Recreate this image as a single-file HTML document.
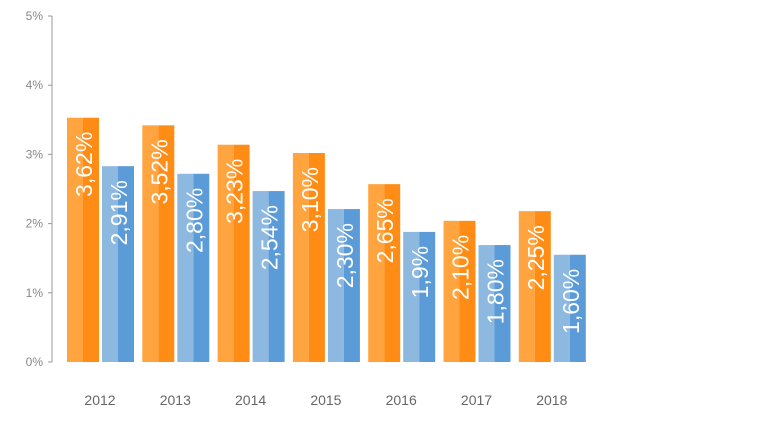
<!DOCTYPE html>
<html><head><meta charset="utf-8"><style>
body{margin:0;background:#fff;}
svg text{font-family:"Liberation Sans",sans-serif;}
</style></head><body>
<svg id="chart" width="768" height="432" viewBox="0 0 768 432" xmlns="http://www.w3.org/2000/svg"></svg>
<script>
const years = ["2012","2013","2014","2015","2016","2017","2018"];
const seriesA = [3.53,3.42,3.14,3.02,2.57,2.04,2.18];
const seriesB = [2.83,2.72,2.47,2.21,1.88,1.69,1.55];
const labelsA = ["3,62%","3,52%","3,23%","3,10%","2,65%","2,10%","2,25%"];
const labelsB = ["2,91%","2,80%","2,54%","2,30%","1,9%","1,80%","1,60%"];
const yTicks = [0,1,2,3,4,5];
const yTickLabels = ["0%","1%","2%","3%","4%","5%"];

const svg = document.getElementById('chart');
const NS = "http://www.w3.org/2000/svg";
const y0 = 362, pxPer = 69.2;
const yScale = v => y0 - v * pxPer;
const xGroup = i => 67 + i * 75.3;
function mk(tag, attrs){const e=document.createElementNS(NS,tag);for(const k in attrs)e.setAttribute(k,attrs[k]);svg.appendChild(e);return e;}

const axis = mk('line',{x1:52,y1:16,x2:52,y2:362,stroke:'#999','stroke-width':1});


yTicks.forEach((t,i)=>{
  const y = yScale(t);
  const tk = mk('line',{x1:48,y1:y,x2:52,y2:y,stroke:'#999'});
  
  
  const lb = mk('text',{x:43,y:y+4,'text-anchor':'end','font-size':12,fill:'#888'});
  lb.textContent = yTickLabels[i];
  
  
});

function bar(x, v, label, light, dark, name){
  const top = yScale(v), h = y0 - top;
  const r1 = mk('rect',{x:x,y:top,width:16,height:h,fill:light});
  
  
  const r2 = mk('rect',{x:x+16,y:top,width:16,height:h,fill:dark});
  
  
  const cx = x + 17, ty = top + 14;
  const t = mk('text',{x:0,y:0,'text-anchor':'end','font-size':23,fill:'#fff',transform:`translate(${cx+8},${ty}) rotate(-90)`});
  t.textContent = label;
  
  
}
years.forEach((yr,i)=>{
  const x = xGroup(i);
  bar(x, seriesA[i], labelsA[i], '#FFA43F', '#FF8C14', 'bar-orange-'+yr);
  bar(x+35, seriesB[i], labelsB[i], '#8DB8DF', '#5B9BD8', 'bar-blue-'+yr);
  const xl = mk('text',{x:x+33,y:405,'text-anchor':'middle','font-size':14,fill:'#666'});
  xl.textContent = yr;
  
  
});
</script>
</body></html>
